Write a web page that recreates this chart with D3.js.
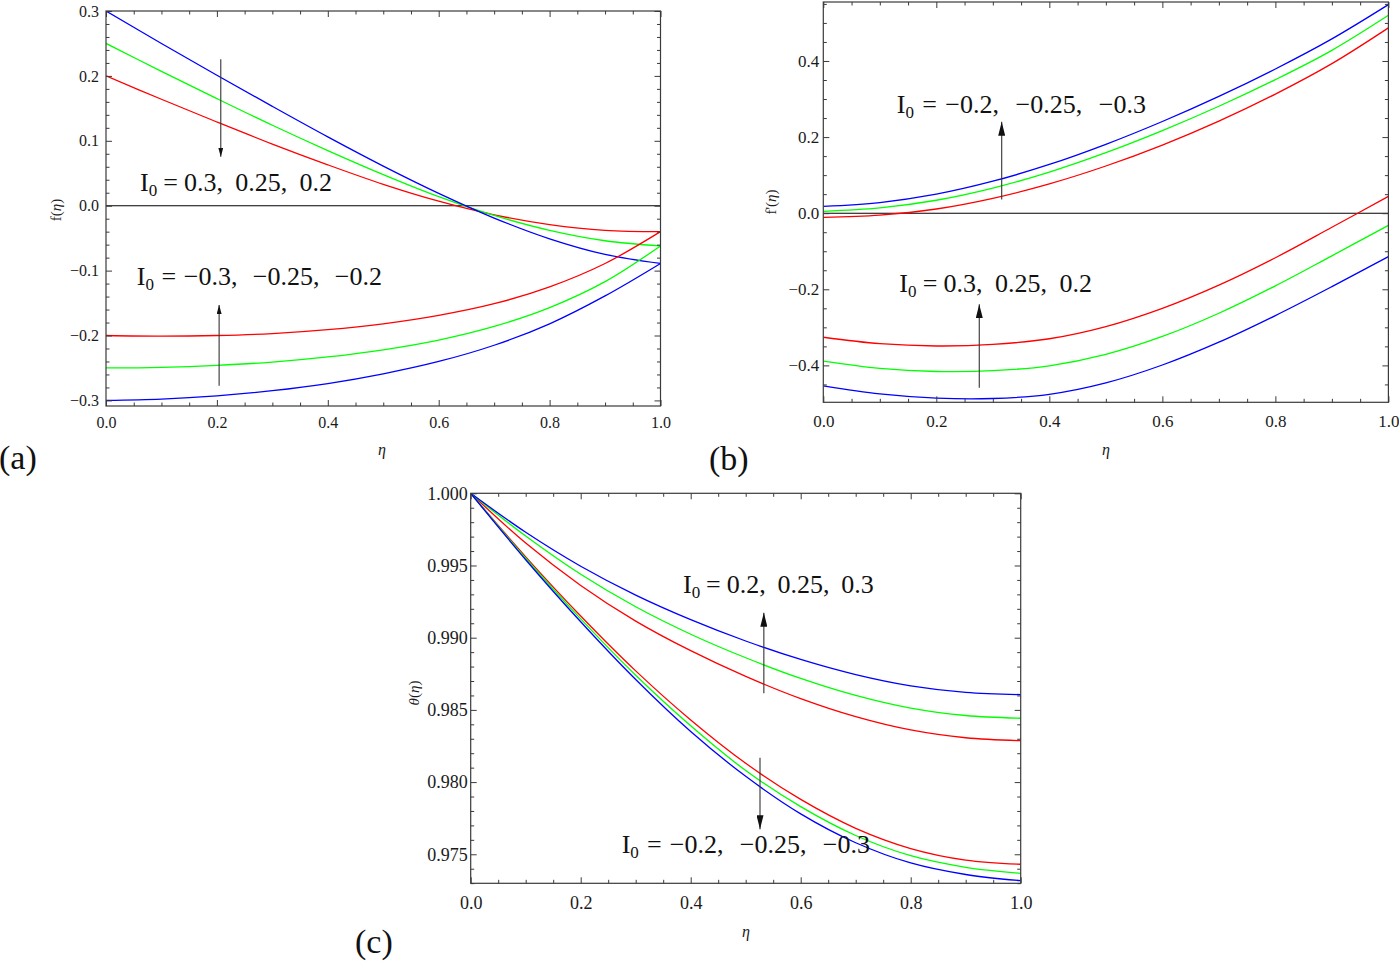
<!DOCTYPE html>
<html><head><meta charset="utf-8">
<script src="https://cdn.jsdelivr.net/npm/d3@7"></script>
<style>
html,body{margin:0;padding:0;background:#fff;}
svg{display:block;}
text{font-family:"Liberation Serif","Times New Roman",serif;}
</style></head><body>
<svg id="chart" width="1399" height="962"></svg>
<script>
// ---------------- DATA ----------------
const eta = [0, 0.1, 0.2, 0.3, 0.4, 0.5, 0.6, 0.7, 0.8, 0.9, 1.0];
const colorOfAbsI0 = { "0.2": "#ff0000", "0.25": "#00ff00", "0.3": "#0000ff" };

// (a) f(eta)
const a_f_I0_p020 = [0.200, 0.164, 0.129, 0.095, 0.063, 0.033, 0.007, -0.014, -0.029, -0.038, -0.040];
const a_f_I0_p025 = [0.250, 0.207, 0.165, 0.124, 0.085, 0.048, 0.014, -0.015, -0.038, -0.054, -0.062];
const a_f_I0_p030 = [0.300, 0.250, 0.201, 0.153, 0.106, 0.061, 0.019, -0.019, -0.051, -0.075, -0.089];
const a_f_I0_m020 = [-0.200, -0.201, -0.200, -0.197, -0.191, -0.182, -0.169, -0.151, -0.125, -0.089, -0.040];
const a_f_I0_m025 = [-0.250, -0.249, -0.246, -0.241, -0.233, -0.222, -0.207, -0.186, -0.157, -0.117, -0.062];
const a_f_I0_m030 = [-0.300, -0.298, -0.293, -0.285, -0.274, -0.259, -0.240, -0.215, -0.182, -0.139, -0.089];

// (b) f'(eta)
const b_fp_I0_m020 = [-0.011, -0.005, 0.011, 0.039, 0.077, 0.124, 0.179, 0.242, 0.313, 0.393, 0.487];
const b_fp_I0_m025 = [0.005, 0.014, 0.034, 0.066, 0.108, 0.159, 0.217, 0.281, 0.351, 0.428, 0.520];
const b_fp_I0_m030 = [0.018, 0.028, 0.050, 0.084, 0.128, 0.181, 0.241, 0.307, 0.379, 0.458, 0.548];
const b_fp_I0_p020 = [-0.326, -0.343, -0.349, -0.345, -0.330, -0.298, -0.250, -0.189, -0.117, -0.037, 0.044];
const b_fp_I0_p025 = [-0.389, -0.408, -0.416, -0.414, -0.401, -0.371, -0.324, -0.263, -0.191, -0.112, -0.032];
const b_fp_I0_p030 = [-0.454, -0.475, -0.486, -0.487, -0.476, -0.446, -0.399, -0.339, -0.269, -0.193, -0.114];

// (c) theta(eta)
const c_th_I0_p020 = [1.0, 0.99655, 0.99362, 0.99115, 0.98910, 0.98732, 0.98578, 0.98453, 0.98361, 0.98307, 0.98287];
const c_th_I0_p025 = [1.0, 0.99704, 0.99439, 0.99214, 0.99024, 0.98861, 0.98718, 0.98600, 0.98512, 0.98461, 0.98442];
const c_th_I0_p030 = [1.0, 0.99730, 0.99495, 0.99295, 0.99125, 0.98977, 0.98849, 0.98744, 0.98666, 0.98621, 0.98606];
const c_th_I0_m020 = [1.0, 0.9956, 0.9915, 0.9877, 0.9843, 0.9813, 0.9788, 0.9768, 0.9754, 0.9746, 0.97431];
const c_th_I0_m025 = [1.0, 0.9955, 0.9913, 0.9874, 0.9839, 0.9808, 0.9783, 0.9763, 0.9749, 0.9741, 0.97368];
const c_th_I0_m030 = [1.0, 0.9954, 0.9911, 0.9871, 0.9835, 0.9804, 0.9778, 0.9758, 0.9744, 0.9736, 0.97317];

// tick labels
const xMajorTicks = [0, 0.2, 0.4, 0.6, 0.8, 1.0];
const a_yMajorTicks = [-0.3, -0.2, -0.1, 0, 0.1, 0.2, 0.3];
const b_yMajorTicks = [-0.4, -0.2, 0, 0.2, 0.4];
const c_yMajorTicks = [0.975, 0.980, 0.985, 0.990, 0.995, 1.000];

// annotation texts
const a_upperLabel = ["0.3", "0.25", "0.2"];
const a_lowerLabel = ["\u22120.3", "\u22120.25", "\u22120.2"];
const b_upperLabel = ["\u22120.2", "\u22120.25", "\u22120.3"];
const b_lowerLabel = ["0.3", "0.25", "0.2"];
const c_upperLabel = ["0.2", "0.25", "0.3"];
const c_lowerLabel = ["\u22120.2", "\u22120.25", "\u22120.3"];

// ---------------- DRAW ----------------
const svg = d3.select("#chart");
const defs = svg.append("defs");
const frameColor = "#3a3a3a";

function rangeStep(a, b, s) {
  const out = [];
  const n = Math.round((b - a) / s);
  for (let i = 0; i <= n; i++) out.push(+(a + i * s).toFixed(6));
  return out;
}
function notIn(arr, major) {
  return arr.filter(v => !major.some(m => Math.abs(m - v) < 1e-9));
}

let panelId = 0;
function drawPanel(cfg) {
  panelId++;
  const g = svg.append("g");
  const x = d3.scaleLinear().domain([0, 1]).range([cfg.left, cfg.right]);
  const y = d3.scaleLinear().domain(cfg.yDomain).range([cfg.bottom, cfg.top]);

  const clipId = "clip" + panelId;
  defs.append("clipPath").attr("id", clipId).append("rect")
    .attr("x", cfg.left).attr("y", cfg.top)
    .attr("width", cfg.right - cfg.left).attr("height", cfg.bottom - cfg.top);

  const plot = g.append("g").attr("clip-path", `url(#${clipId})`);
  if (cfg.zeroLine) {
    plot.append("line").attr("x1", x(0)).attr("x2", x(1)).attr("y1", y(0)).attr("y2", y(0))
      .attr("stroke", "#000").attr("stroke-width", 1.1);
  }
  const line = d3.line().x(d => x(d[0])).y(d => y(d[1])).curve(d3.curveCatmullRom.alpha(0.5));
  cfg.series.forEach(s => {
    plot.append("path").datum(eta.map((e, i) => [e, s.values[i]]))
      .attr("d", line).attr("fill", "none")
      .attr("stroke", colorOfAbsI0[s.absI0]).attr("stroke-width", 1.3);
  });

  // axes
  const xMinor = notIn(rangeStep(0, 1, 0.05), xMajorTicks);
  const yMinor = notIn(cfg.yMinor, cfg.yMajor);
  const fmtX = d3.format(".1f");
  const fmtY = d3.format(cfg.yFormat);
  const style = sel => {
    sel.select(".domain").remove();
    sel.selectAll("line").attr("stroke", frameColor);
    sel.attr("font-family", null).attr("font-size", cfg.fontSize);
    sel.selectAll("text").attr("fill", "#1a1a1a");
  };
  const majorLen = cfg.majorLen, minorLen = cfg.minorLen;
  g.append("g").attr("transform", `translate(0,${cfg.bottom})`)
    .call(d3.axisBottom(x).tickValues(xMajorTicks).tickSize(-majorLen).tickPadding(cfg.xPad).tickFormat(fmtX)).call(style);
  g.append("g").attr("transform", `translate(0,${cfg.bottom})`)
    .call(d3.axisBottom(x).tickValues(xMinor).tickSize(-minorLen).tickFormat("")).call(style);
  g.append("g").attr("transform", `translate(0,${cfg.top})`)
    .call(d3.axisTop(x).tickValues(xMajorTicks).tickSize(-majorLen).tickFormat("")).call(style);
  g.append("g").attr("transform", `translate(0,${cfg.top})`)
    .call(d3.axisTop(x).tickValues(xMinor).tickSize(-minorLen).tickFormat("")).call(style);
  g.append("g").attr("transform", `translate(${cfg.left},0)`)
    .call(d3.axisLeft(y).tickValues(cfg.yMajor).tickSize(-majorLen).tickPadding(cfg.yPad).tickFormat(fmtY)).call(style);
  g.append("g").attr("transform", `translate(${cfg.left},0)`)
    .call(d3.axisLeft(y).tickValues(yMinor).tickSize(-minorLen).tickFormat("")).call(style);
  g.append("g").attr("transform", `translate(${cfg.right},0)`)
    .call(d3.axisRight(y).tickValues(cfg.yMajor).tickSize(-majorLen).tickFormat("")).call(style);
  g.append("g").attr("transform", `translate(${cfg.right},0)`)
    .call(d3.axisRight(y).tickValues(yMinor).tickSize(-minorLen).tickFormat("")).call(style);

  g.append("rect").attr("x", cfg.left).attr("y", cfg.top)
    .attr("width", cfg.right - cfg.left).attr("height", cfg.bottom - cfg.top)
    .attr("fill", "none").attr("stroke", frameColor).attr("stroke-width", 1.2);

  // axis titles
  const yt = g.append("text").attr("font-size", cfg.titleSize).attr("fill", "#1a1a1a")
    .attr("text-anchor", "middle")
    .attr("transform", `translate(${cfg.yTitlePos[0]},${cfg.yTitlePos[1]}) rotate(-90)`);
  cfg.yTitle.forEach(p => yt.append("tspan").text(p.t).attr("font-style", p.i ? "italic" : null));
  g.append("text").attr("x", cfg.xTitlePos[0]).attr("y", cfg.xTitlePos[1])
    .attr("font-size", cfg.titleSize + 1).attr("font-style", "italic").attr("text-anchor", "middle")
    .attr("fill", "#1a1a1a").text("\u03b7");

  // panel letter
  g.append("text").attr("x", cfg.letterPos[0]).attr("y", cfg.letterPos[1])
    .attr("font-size", 34).attr("fill", "#111").text(cfg.letter);

  // arrow marker
  const mid = "arrow" + panelId;
  defs.append("marker").attr("id", mid).attr("markerUnits", "userSpaceOnUse")
    .attr("viewBox", `0 0 ${cfg.headLen} ${cfg.headW}`)
    .attr("markerWidth", cfg.headLen).attr("markerHeight", cfg.headW)
    .attr("refX", cfg.headLen).attr("refY", cfg.headW / 2).attr("orient", "auto")
    .append("path").attr("d", `M0,0L${cfg.headLen},${cfg.headW / 2}L0,${cfg.headW}Z`).attr("fill", "#111");

  cfg.notes.forEach(n => {
    const t = g.append("text").attr("x", x(n.start)).attr("y", y(n.base))
      .attr("font-size", 26).attr("fill", "#111").style("white-space", "pre");
    t.append("tspan").text("I");
    t.append("tspan").text("0").attr("font-size", 17).attr("dy", 5);
    const rest = " = " + n.vals.join(",  ");
    t.append("tspan").attr("dy", -5).text(rest);
    const w = t.node().getComputedTextLength();
    const target = x(n.end) - x(n.start);
    const nSpaces = rest.split(" ").length - 1;
    t.attr("word-spacing", (target - w) / nSpaces);
    g.append("line").attr("x1", x(n.ax)).attr("x2", x(n.ax))
      .attr("y1", y(n.ay0)).attr("y2", y(n.ay1))
      .attr("stroke", "#333").attr("stroke-width", 1.1)
      .attr("marker-end", `url(#${mid})`);
  });
}

drawPanel({
  left: 106, right: 660.5, top: 11, bottom: 406,
  yDomain: [-0.3086, 0.3],
  yMajor: a_yMajorTicks, yMinor: rangeStep(-0.3, 0.3, 0.02), yFormat: ".1f",
  fontSize: 16, xPad: 11, yPad: 7, majorLen: 6, minorLen: 3.5,
  zeroLine: true,
  series: [
    { absI0: "0.2", values: a_f_I0_p020 }, { absI0: "0.25", values: a_f_I0_p025 }, { absI0: "0.3", values: a_f_I0_p030 },
    { absI0: "0.2", values: a_f_I0_m020 }, { absI0: "0.25", values: a_f_I0_m025 }, { absI0: "0.3", values: a_f_I0_m030 }
  ],
  titleSize: 15, yTitle: [{ t: "f(" }, { t: "\u03b7", i: true }, { t: ")" }], yTitlePos: [61, 210],
  xTitlePos: [382, 455], letter: "(a)", letterPos: [-1, 469],
  headLen: 9, headW: 5,
  notes: [
    { vals: a_upperLabel, start: 0.0613, end: 0.4076, base: 0.0231, ax: 0.207, ay0: 0.2256, ay1: 0.0755 },
    { vals: a_lowerLabel, start: 0.0554, end: 0.4977, base: -0.122, ax: 0.204, ay0: -0.2773, ay1: -0.153 }
  ]
});

drawPanel({
  left: 823.3, right: 1388.4, top: 2, bottom: 402.3,
  yDomain: [-0.497, 0.555],
  yMajor: b_yMajorTicks, yMinor: rangeStep(-0.45, 0.55, 0.05), yFormat: ".1f",
  fontSize: 17, xPad: 13, yPad: 4, majorLen: 6, minorLen: 3.5,
  zeroLine: true,
  series: [
    { absI0: "0.2", values: b_fp_I0_m020 }, { absI0: "0.25", values: b_fp_I0_m025 }, { absI0: "0.3", values: b_fp_I0_m030 },
    { absI0: "0.2", values: b_fp_I0_p020 }, { absI0: "0.25", values: b_fp_I0_p025 }, { absI0: "0.3", values: b_fp_I0_p030 }
  ],
  titleSize: 15, yTitle: [{ t: "f'(" }, { t: "\u03b7", i: true }, { t: ")" }], yTitlePos: [776, 202],
  xTitlePos: [1106, 455], letter: "(b)", letterPos: [709, 470],
  headLen: 14, headW: 7,
  notes: [
    { vals: b_upperLabel, start: 0.130, end: 0.571, base: 0.262, ax: 0.3157, ay0: 0.036, ay1: 0.240 },
    { vals: b_lowerLabel, start: 0.1345, end: 0.4755, base: -0.2084, ax: 0.276, ay0: -0.459, ay1: -0.239 }
  ]
});

drawPanel({
  left: 470.7, right: 1020.7, top: 493.3, bottom: 883.3,
  yDomain: [0.97299, 1.0],
  yMajor: c_yMajorTicks, yMinor: rangeStep(0.973, 1.0, 0.001), yFormat: ".3f",
  fontSize: 18, xPad: 13, yPad: 3, majorLen: 6, minorLen: 3.5,
  zeroLine: false,
  series: [
    { absI0: "0.2", values: c_th_I0_p020 }, { absI0: "0.25", values: c_th_I0_p025 }, { absI0: "0.3", values: c_th_I0_p030 },
    { absI0: "0.2", values: c_th_I0_m020 }, { absI0: "0.25", values: c_th_I0_m025 }, { absI0: "0.3", values: c_th_I0_m030 }
  ],
  titleSize: 15, yTitle: [{ t: "\u03b8", i: true }, { t: "(" }, { t: "\u03b7", i: true }, { t: ")" }], yTitlePos: [419, 693],
  xTitlePos: [746, 937], letter: "(c)", letterPos: [355, 953],
  headLen: 14, headW: 7,
  notes: [
    { vals: c_upperLabel, start: 0.386, end: 0.733, base: 0.99307, ax: 0.533, ay0: 0.98615, ay1: 0.99173 },
    { vals: c_lowerLabel, start: 0.2745, end: 0.726, base: 0.97507, ax: 0.526, ay0: 0.98169, ay1: 0.97673 }
  ]
});
</script>
</body></html>
